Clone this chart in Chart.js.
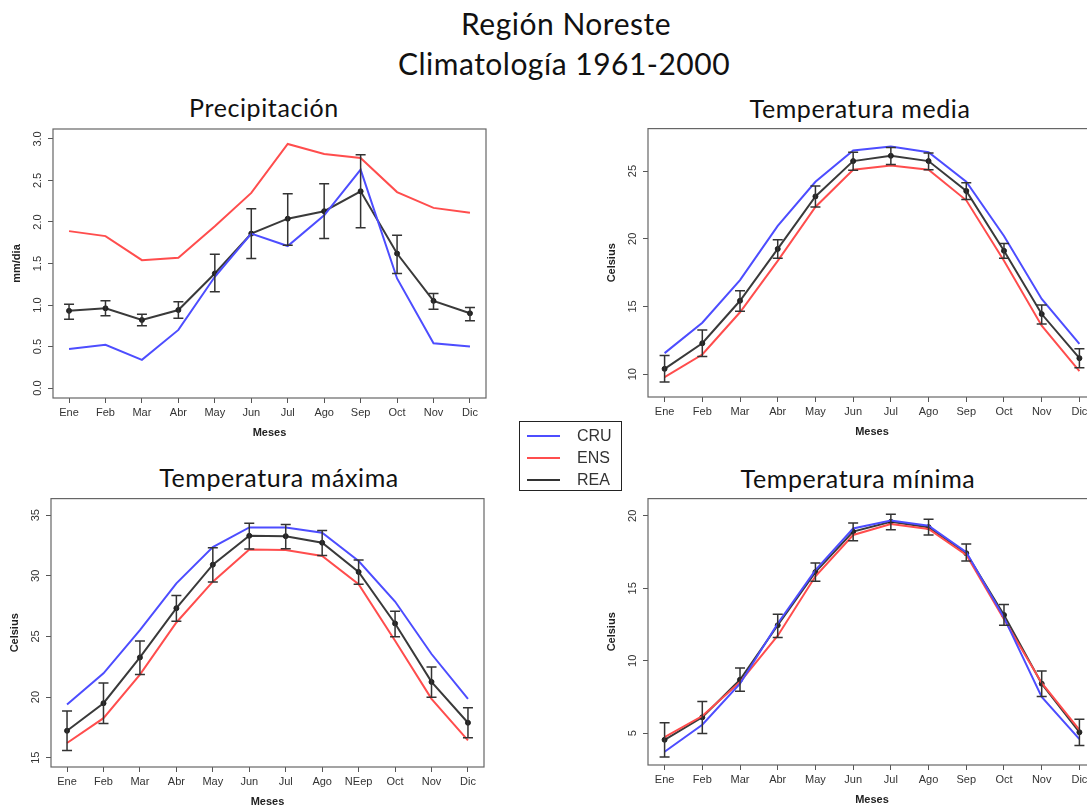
<!DOCTYPE html>
<html>
<head>
<meta charset="utf-8">
<script src="https://cdn.jsdelivr.net/npm/chart.js@4.4.1/dist/chart.umd.min.js"></script>
<style>
  html, body { margin: 0; padding: 0; background: #fff; width: 1087px; height: 811px; overflow: hidden; position: relative; }
  .t { position: absolute; font-family: Lato, sans-serif; color: #111; white-space: nowrap; line-height: 1; transform: translateX(-50%); }
  .sub { font-size: 25px; letter-spacing: 0.6px; }
  .main { font-size: 30px; letter-spacing: 0.5px; }
  .panel { position: absolute; }
  #legend { position: absolute; left: 519px; top: 421px; width: 101px; height: 68px; border: 1.5px solid #222; font-family: "Liberation Sans", Arial, sans-serif; font-size: 16px; color: #333; }
  #legend .row { position: absolute; left: 0; height: 20px; width: 100%; }
  #legend .ln { position: absolute; left: 7px; top: 9px; width: 33px; height: 2px; }
  #legend .lb { position: absolute; left: 57px; top: 1px; }
</style>
</head>
<body>
<div class="t main" style="left:566px;top:8px">Región Noreste</div>
<div class="t main" style="left:564px;top:48px">Climatología 1961-2000</div>
<div class="t sub" style="left:264px;top:95px">Precipitación</div>
<div class="t sub" style="left:860px;top:96px">Temperatura media</div>
<div class="t sub" style="left:279px;top:465px">Temperatura máxima</div>
<div class="t sub" style="left:858px;top:466px">Temperatura mínima</div>

<div class="panel" style="left:0px;top:120px;width:500px;height:322px"><canvas id="cPrec"></canvas></div>
<div class="panel" style="left:595px;top:118px;width:515px;height:323px"><canvas id="cMed"></canvas></div>
<div class="panel" style="left:-2px;top:488px;width:500px;height:323px"><canvas id="cMax"></canvas></div>
<div class="panel" style="left:595px;top:488px;width:515px;height:321px"><canvas id="cMin"></canvas></div>

<div id="legend">
  <div class="row" style="top:4px"><div class="ln" style="background:#4d4dff"></div><div class="lb">CRU</div></div>
  <div class="row" style="top:26px"><div class="ln" style="background:#ff4d4d"></div><div class="lb">ENS</div></div>
  <div class="row" style="top:48px"><div class="ln" style="background:#333"></div><div class="lb">REA</div></div>
</div>

<script>
const meses = ["Ene", "Feb", "Mar", "Abr", "May", "Jun", "Jul", "Ago", "Sep", "Oct", "Nov", "Dic"];
const mesesMax = ["Ene", "Feb", "Mar", "Abr", "May", "Jun", "Jul", "Ago", "NEep", "Oct", "Nov", "Dic"];

// Precipitacion (mm/dia)
const precCRU = [0.47, 0.52, 0.34, 0.70, 1.34, 1.86, 1.71, 2.08, 2.63, 1.32, 0.54, 0.50];
const precENS = [1.89, 1.83, 1.54, 1.57, 1.95, 2.35, 2.94, 2.82, 2.77, 2.36, 2.17, 2.11];
const precREA = [0.93, 0.96, 0.82, 0.94, 1.38, 1.86, 2.04, 2.13, 2.37, 1.62, 1.05, 0.90];
const precLo = [0.83, 0.87, 0.75, 0.84, 1.16, 1.56, 1.72, 1.80, 1.93, 1.38, 0.95, 0.81];
const precHi = [1.01, 1.05, 0.89, 1.04, 1.61, 2.16, 2.34, 2.46, 2.81, 1.84, 1.14, 0.97];
const precTicks = [0, 0.5, 1, 1.5, 2, 2.5, 3];

// Temperatura media (Celsius)
const medCRU = [11.55, 13.80, 16.95, 20.95, 24.21, 26.52, 26.82, 26.40, 24.21, 20.21, 15.55, 12.23];
const medENS = [9.78, 11.45, 14.57, 18.37, 22.35, 25.10, 25.42, 25.10, 22.84, 18.37, 13.58, 10.22];
const medREA = [10.39, 12.28, 15.42, 19.25, 23.13, 25.74, 26.13, 25.74, 23.53, 19.11, 14.44, 11.18];
const medLo = [9.41, 11.30, 14.64, 18.57, 22.35, 25.07, 25.49, 25.10, 22.91, 18.57, 13.71, 10.47];
const medHi = [11.37, 13.26, 16.16, 19.92, 23.90, 26.40, 26.74, 26.33, 24.14, 19.65, 15.11, 11.87];
const medTicks = [10, 15, 20, 25];

// Temperatura maxima (Celsius)
const maxCRU = [19.38, 21.96, 25.52, 29.38, 32.37, 33.99, 33.99, 33.55, 31.22, 27.88, 23.55, 19.85];
const maxENS = [16.21, 18.26, 21.85, 26.15, 29.52, 32.18, 32.12, 31.63, 29.30, 24.64, 19.85, 16.42];
const maxREA = [17.22, 19.49, 23.27, 27.33, 30.92, 33.30, 33.27, 32.73, 30.32, 26.07, 21.25, 17.88];
const maxLo = [15.60, 17.82, 21.85, 26.26, 29.49, 32.21, 32.23, 31.68, 29.30, 24.97, 19.99, 16.64];
const maxHi = [18.84, 21.16, 24.62, 28.37, 32.32, 34.34, 34.23, 33.74, 31.30, 27.08, 22.48, 19.11];
const maxTicks = [15, 20, 25, 30, 35];

// Temperatura minima (Celsius)
const minCRU = [3.72, 5.59, 8.42, 12.57, 16.26, 19.13, 19.68, 19.32, 17.49, 12.98, 7.51, 4.59];
const minENS = [4.73, 6.19, 8.53, 11.73, 15.83, 18.68, 19.43, 19.09, 17.31, 12.87, 8.47, 5.23];
const minREA = [4.55, 6.10, 8.69, 12.45, 16.12, 18.91, 19.59, 19.22, 17.42, 13.16, 8.42, 5.07];
const minLo = [3.36, 4.98, 7.90, 11.61, 15.49, 18.29, 19.04, 18.68, 16.88, 12.45, 7.53, 4.16];
const minHi = [5.73, 7.19, 9.51, 13.21, 16.74, 19.50, 20.11, 19.77, 18.06, 13.89, 9.29, 5.96];
const minTicks = [5, 10, 15, 20];

const AXIS_FONT = "'Liberation Sans', Arial, sans-serif";

const errorBars = {
  id: "errorBars",
  afterDatasetsDraw(chart, args, opts) {
    const { ctx, scales: { x, y } } = chart;
    ctx.save();
    ctx.strokeStyle = "#333";
    ctx.lineWidth = 1.5;
    opts.low.forEach((lo, i) => {
      const px = x.getPixelForValue(i + 1);
      const y1 = y.getPixelForValue(lo);
      const y2 = y.getPixelForValue(opts.high[i]);
      ctx.beginPath();
      ctx.moveTo(px, y1); ctx.lineTo(px, y2);
      ctx.moveTo(px - 5, y1); ctx.lineTo(px + 5, y1);
      ctx.moveTo(px - 5, y2); ctx.lineTo(px + 5, y2);
      ctx.stroke();
    });
    ctx.restore();
  }
};

const plotBox = {
  id: "plotBox",
  afterDraw(chart) {
    const { ctx, chartArea: a } = chart;
    ctx.save();
    ctx.strokeStyle = "#666";
    ctx.lineWidth = 1.2;
    ctx.strokeRect(a.left, a.top, a.right - a.left, a.bottom - a.top);
    ctx.restore();
  }
};

function pts(arr) {
  return arr.map((v, i) => ({ x: i + 1, y: v }));
}

function makeChart(id, labels, cru, ens, rea, lo, hi, ticks, yMin, yMax, yTitle, decimals, tickPad) {
  new Chart(document.getElementById(id), {
    type: "line",
    data: {
      datasets: [
        { label: "CRU", data: pts(cru), borderColor: "#4d4dff", borderWidth: 2, pointRadius: 0, fill: false, tension: 0 },
        { label: "ENS", data: pts(ens), borderColor: "#ff4d4d", borderWidth: 2, pointRadius: 0, fill: false, tension: 0 },
        { label: "REA", data: pts(rea), borderColor: "#3a3a3a", borderWidth: 2, pointRadius: 2.5,
          pointBackgroundColor: "#222", pointBorderColor: "#222", pointBorderWidth: 1, fill: false, tension: 0 }
      ]
    },
    options: {
      responsive: true,
      maintainAspectRatio: false,
      animation: false,
      layout: { padding: { top: 9, right: 14, left: 0, bottom: 0 } },
      plugins: {
        legend: { display: false },
        tooltip: { enabled: false },
        errorBars: { low: lo, high: hi }
      },
      scales: {
        x: {
          type: "linear",
          min: 0.56,
          max: 12.44,
          afterBuildTicks: (s) => { s.ticks = labels.map((_, i) => ({ value: i + 1 })); },
          afterFit: (s) => { s.height = 44; },
          grid: { drawOnChartArea: false, drawTicks: true, tickLength: 5, color: "#555" },
          border: { display: false },
          ticks: {
            autoSkip: false, maxRotation: 0, minRotation: 0, padding: 3,
            color: "#333", font: { family: AXIS_FONT, size: 11 },
            callback: (v) => labels[Math.round(v) - 1]
          },
          title: { display: true, text: "Meses", color: "#222", padding: { top: 0, bottom: 2 },
            font: { family: AXIS_FONT, size: 11, weight: "bold" } }
        },
        y: {
          min: yMin,
          max: yMax,
          afterBuildTicks: (s) => { s.ticks = ticks.map((v) => ({ value: v })); },
          afterFit: (s) => { s.width = 53; },
          grid: { drawOnChartArea: false, drawTicks: true, tickLength: 5, color: "#555" },
          border: { display: false },
          ticks: {
            minRotation: 90, maxRotation: 90, crossAlign: "center", padding: tickPad,
            color: "#333", font: { family: AXIS_FONT, size: 11 },
            callback: (v) => v.toFixed(decimals)
          },
          title: { display: true, text: yTitle, color: "#222", padding: { top: 10, bottom: 0 },
            font: { family: AXIS_FONT, size: 11, weight: "bold" } }
        }
      }
    },
    plugins: [errorBars, plotBox]
  });
}

makeChart("cPrec", meses, precCRU, precENS, precREA, precLo, precHi, precTicks, -0.12, 3.12, "mm/dia", 1, 2);
makeChart("cMed", meses, medCRU, medENS, medREA, medLo, medHi, medTicks, 8.31, 28.14, "Celsius", 0, 4);
makeChart("cMax", mesesMax, maxCRU, maxENS, maxREA, maxLo, maxHi, maxTicks, 14.23, 36.37, "Celsius", 0, 4);
makeChart("cMin", meses, minCRU, minENS, minREA, minLo, minHi, minTicks, 2.81, 21.19, "Celsius", 0, 4);
</script>
</body>
</html>
